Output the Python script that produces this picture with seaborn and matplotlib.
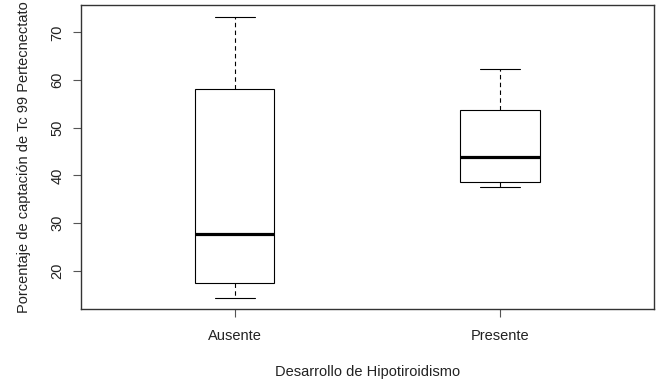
import matplotlib
matplotlib.use("Agg")
import matplotlib.pyplot as plt
import seaborn as sns
import pandas as pd

# Five-number summaries (min, Q1, median, Q3, max)
categories = ["Ausente", "Presente"]
ausente = [14.4, 17.5, 27.7, 58.2, 73.2]
presente = [37.6, 38.6, 43.9, 53.8, 62.4]
yticks = [20, 30, 40, 50, 60, 70]

df = pd.DataFrame({
    "grupo": [categories[0]] * len(ausente) + [categories[1]] * len(presente),
    "valor": ausente + presente,
})

sns.set_style("white")
plt.rcParams["font.family"] = ["Liberation Sans", "DejaVu Sans"]

fig = plt.figure(figsize=(6.64, 3.84), dpi=100)
ax = fig.add_axes([0.1215, 0.1953, 0.8635, 0.7907])

sns.boxplot(
    data=df, x="grupo", y="valor", order=categories, ax=ax,
    whis=(0, 100), width=0.3, color="white", linecolor="black",
    linewidth=0.8, saturation=1,
    medianprops=dict(linewidth=2.3, color="black"),
    whiskerprops=dict(linestyle=(0, (4, 3)), color="black"),
    capprops=dict(color="black"),
)

ax.set_xlim(-0.58, 1.58)
ax.set_ylim(12.0, 75.66)
ax.set_yticks(yticks)
ax.set_yticklabels([str(v) for v in yticks])

for s in ax.spines.values():
    s.set_visible(True)
    s.set_color("#333333")
    s.set_linewidth(1.0)

ax.tick_params(axis="both", direction="out", length=5.5, width=0.8,
               bottom=True, left=True,
               color="#555555", labelsize=10.5, labelcolor="#222222", pad=5)
ax.tick_params(axis="x", pad=9)
ax.tick_params(axis="y", labelrotation=90, pad=6)
for lab in ax.get_yticklabels():
    lab.set_va("center")

ax.set_xlabel("Desarrollo de Hipotiroidismo", fontsize=10.5, color="#222222", labelpad=16)
ax.set_ylabel("Porcentaje de captación de Tc 99 Pertecnectato", fontsize=10.5,
              color="#222222", labelpad=14)

fig.savefig("out.png", dpi=100, facecolor="white")
